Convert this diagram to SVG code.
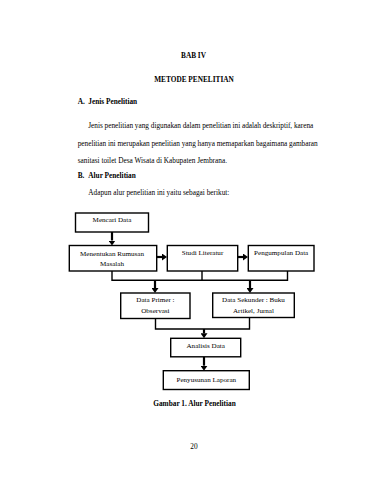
<svg xmlns="http://www.w3.org/2000/svg" width="371" height="480" viewBox="0 0 371 480">
<style>
text{font-family:"Liberation Serif","Times New Roman",serif;fill:#000;}
.h{font-weight:bold;font-size:7.3px;}
.b{font-size:7.3px;}
.n{font-size:7.1px;text-anchor:middle;}
.box{fill:#fff;stroke:#000;stroke-width:1.4;}
.ln{fill:none;stroke:#000;stroke-width:1.4;}
.ar{fill:none;stroke:#000;stroke-width:2.2;marker-end:url(#ah);}
</style>
<defs>
<marker id="ah" markerUnits="userSpaceOnUse" markerWidth="6" markerHeight="7" refX="0" refY="3.5" orient="auto">
<path d="M0,0 L5,3.5 L0,7 z" fill="#000"/>
</marker>
</defs>
<rect width="371" height="480" fill="#fff"/>
<g id="page-text">
<text class="h" x="193.5" y="57.5" text-anchor="middle">BAB IV</text>
<text class="h" x="194" y="81.5" text-anchor="middle">METODE PENELITIAN</text>
<text class="h" x="77.7" y="104">A.</text>
<text class="h" x="88.3" y="104">Jenis Penelitian</text>
<text class="b" x="88.3" y="128" textLength="225" lengthAdjust="spacing">Jenis penelitian yang digunakan dalam penelitian ini adalah deskriptif, karena</text>
<text class="b" x="77.7" y="145.5" textLength="240" lengthAdjust="spacing">penelitian ini merupakan penelitian yang hanya memaparkan bagaimana gambaran</text>
<text class="b" x="77.7" y="162.7">sanitasi toilet Desa Wisata di Kabupaten Jembrana.</text>
<text class="h" x="77.7" y="177.7">B.</text>
<text class="h" x="88.3" y="177.7">Alur Penelitian</text>
<text class="b" x="88.3" y="195">Adapun alur penelitian ini yaitu sebagai berikut:</text>
<text class="h" x="194.5" y="406" text-anchor="middle">Gambar 1. Alur Penelitian</text>
<text class="b" x="194" y="449" text-anchor="middle">20</text>
</g>
<g id="connectors">
<line class="ar" x1="112" y1="232" x2="112" y2="240.5"/>
<line class="ar" x1="157" y1="257" x2="162" y2="257"/>
<line class="ar" x1="238" y1="257" x2="243" y2="257"/>
<polyline class="ln" points="112,271 112,280.3 287.5,280.3 287.5,271"/>
<line class="ln" x1="202" y1="271" x2="202" y2="280.3"/>
<line class="ar" x1="155" y1="280.3" x2="155" y2="288"/>
<line class="ar" x1="250" y1="280.3" x2="250" y2="288"/>
<polyline class="ln" points="155.5,318.5 155.5,329 249.5,329 249.5,317.5"/>
<line class="ar" x1="204" y1="329" x2="204" y2="333.3"/>
<line class="ar" x1="204" y1="357" x2="204" y2="365.7"/>
</g>
<g id="mencari-data">
<rect class="box" x="75.5" y="213" width="73" height="19"/>
<text class="n" x="112" y="222">Mencari Data</text>
</g>
<g id="menentukan-rumusan">
<rect class="box" x="69.3" y="245.5" width="87.4" height="25.5"/>
<text class="n" x="112" y="255.5">Menentukan Rumusan</text>
<text class="n" x="112" y="266">Masalah</text>
</g>
<g id="studi-literatur">
<rect class="box" x="167.3" y="245.5" width="70.4" height="25.5"/>
<text class="n" x="202.5" y="255">Studi Literatur</text>
</g>
<g id="pengumpulan-data">
<rect class="box" x="248.3" y="245.5" width="65.7" height="25.5"/>
<text class="n" x="281.2" y="255">Pengumpulan Data</text>
</g>
<g id="data-primer">
<rect class="box" x="120.7" y="293" width="69.3" height="25.5"/>
<text class="n" x="155.4" y="302.3">Data Primer :</text>
<text class="n" x="155.4" y="312.7">Observasi</text>
</g>
<g id="data-sekunder">
<rect class="box" x="212.7" y="293" width="81.6" height="24.5"/>
<text class="n" x="253.5" y="302.3">Data Sekunder : Buku</text>
<text class="n" x="253.5" y="312.7">Artikel, Jurnal</text>
</g>
<g id="analisis-data">
<rect class="box" x="170.7" y="338.3" width="70" height="18.5"/>
<text class="n" x="205.7" y="347.5">Analisis Data</text>
</g>
<g id="penyusunan-laporan">
<rect class="box" x="163.3" y="370.7" width="86" height="18.8"/>
<text class="n" x="206.3" y="381.7">Penyusunan Laporan</text>
</g>
</svg>
